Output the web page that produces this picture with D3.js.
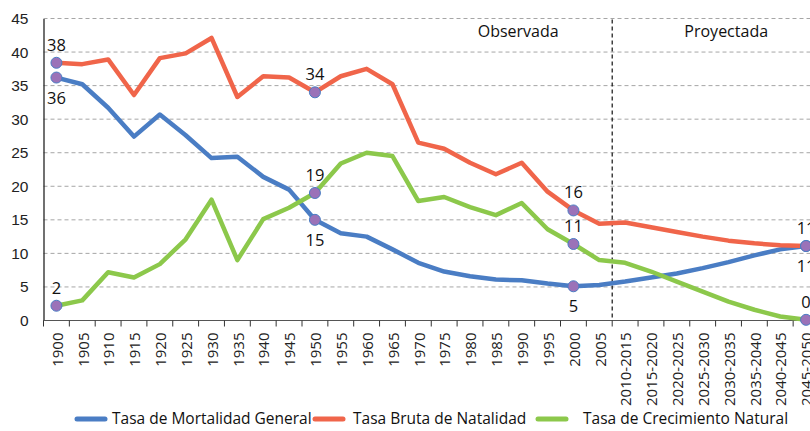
<!DOCTYPE html>
<html>
<head>
<meta charset="utf-8">
<script src="https://cdn.jsdelivr.net/npm/d3@7"></script>
<style>
  body { margin: 0; background: #fff; }
  svg { display: block; font-family: "Open Sans", "Noto Sans", sans-serif; }
</style>
</head>
<body>
<svg id="chart" width="810" height="431"></svg>
<script>
// periods on the x axis
var periods = ['1900', '1905', '1910', '1915', '1920', '1925', '1930', '1935', '1940', '1945',
  '1950', '1955', '1960', '1965', '1970', '1975', '1980', '1985', '1990', '1995', '2000', '2005',
  '2010-2015', '2015-2020', '2020-2025', '2025-2030', '2030-2035', '2035-2040', '2040-2045', '2045-2050'];

var mortalidad = [36.2, 35.2, 31.7, 27.4, 30.7, 27.6, 24.2, 24.4, 21.4, 19.5,
  15.0, 13.0, 12.5, 10.6, 8.6, 7.3, 6.6, 6.1, 6.0, 5.5, 5.1, 5.3,
  5.8, 6.4, 7.0, 7.8, 8.7, 9.7, 10.6, 11.1];

var natalidad = [38.4, 38.2, 38.9, 33.6, 39.1, 39.8, 42.1, 33.3, 36.4, 36.2,
  34.0, 36.4, 37.5, 35.2, 26.5, 25.6, 23.5, 21.8, 23.5, 19.2, 16.4, 14.4,
  14.6, 13.9, 13.2, 12.5, 11.9, 11.5, 11.2, 11.1];

var crecimiento = [2.2, 3.0, 7.2, 6.4, 8.4, 12.1, 18.0, 9.0, 15.1, 16.8,
  19.0, 23.4, 25.0, 24.5, 17.8, 18.4, 16.9, 15.7, 17.5, 13.6, 11.4, 9.0,
  8.6, 7.3, 5.8, 4.3, 2.8, 1.6, 0.6, 0.1];

var yTicks = [0, 5, 10, 15, 20, 25, 30, 35, 40, 45];

// periods whose points get a marker and a value label
var labelled = ['1900', '1950', '2000', '2045-2050'];

var series = [
  {name: 'Tasa de Mortalidad General', values: mortalidad, color: '#4a7dc4', labelPos: 'below'},
  {name: 'Tasa Bruta de Natalidad', values: natalidad, color: '#f0654a', labelPos: 'above'},
  {name: 'Tasa de Crecimiento Natural', values: crecimiento, color: '#8cc84b', labelPos: 'above'}
];

var svg = d3.select('#chart');
var margin = {left: 43.5, top: 18.5};
var bandW = 25.85;
var plotW = bandW * periods.length;
var plotH = 302;

var x = d3.scaleBand().domain(periods).range([0, plotW]);
var y = d3.scaleLinear().domain([0, 45]).range([plotH, 0]);

var g = svg.append('g').attr('transform', 'translate(' + margin.left + ',' + margin.top + ')');

// dashed gridlines
g.append('g').selectAll('line')
  .data(yTicks.filter(d => d > 0))
  .enter().append('line')
    .attr('x1', 0).attr('x2', plotW)
    .attr('y1', d => y(d)).attr('y2', d => y(d))
    .attr('stroke', '#a6a6a6')
    .attr('stroke-width', 1)
    .attr('stroke-dasharray', '4,3');

// y axis
var yAxis = g.append('g').call(d3.axisLeft(y).tickValues(yTicks).tickSize(0).tickPadding(15));
yAxis.select('.domain').attr('stroke', '#111').attr('stroke-width', 1.2);
yAxis.selectAll('text').attr('font-size', 15.5).attr('fill', '#222');

// x axis, ticks on category boundaries
var xAxisG = g.append('g').attr('transform', 'translate(0,' + plotH + ')');
xAxisG.append('line').attr('x1', 0).attr('x2', plotW).attr('stroke', '#555').attr('stroke-width', 1.2);
xAxisG.selectAll('.tick-mark')
  .data(periods.concat(['end']))
  .enter().append('line')
    .attr('class', 'tick-mark')
    .attr('x1', (d, i) => i * bandW).attr('x2', (d, i) => i * bandW)
    .attr('y1', 0).attr('y2', 6)
    .attr('stroke', '#333').attr('stroke-width', 1);
xAxisG.selectAll('text')
  .data(periods)
  .enter().append('text')
    .attr('transform', d => 'translate(' + (x(d) + x.bandwidth() / 2 + 1) + ',12) rotate(-90)')
    .attr('text-anchor', 'end')
    .attr('dy', '0.35em')
    .attr('font-size', 15)
    .attr('fill', '#222')
    .text(d => d);

// observed / projected divider
var splitX = x('2010-2015');
g.append('line')
  .attr('x1', splitX).attr('x2', splitX)
  .attr('y1', y(45) + 1).attr('y2', plotH)
  .attr('stroke', '#111').attr('stroke-width', 1.2)
  .attr('stroke-dasharray', '4,3');
g.append('text').attr('x', splitX - 94).attr('y', 18).attr('text-anchor', 'middle')
  .attr('font-size', 16).attr('fill', '#111').text('Observada');
g.append('text').attr('x', splitX + 114).attr('y', 18).attr('text-anchor', 'middle')
  .attr('font-size', 16).attr('fill', '#111').text('Proyectada');

// lines
var line = d3.line()
  .x((d, i) => x(periods[i]) + x.bandwidth() / 2)
  .y(d => y(d));

g.selectAll('.series')
  .data(series)
  .enter().append('path')
    .attr('class', 'series')
    .attr('d', d => line(d.values))
    .attr('fill', 'none')
    .attr('stroke', d => d.color)
    .attr('stroke-width', 4.5)
    .attr('stroke-linejoin', 'round');

// markers + value labels
series.forEach(function(s) {
  var pts = labelled.map(p => ({period: p, value: s.values[periods.indexOf(p)]}));
  g.append('g').selectAll('circle')
    .data(pts)
    .enter().append('circle')
      .attr('cx', d => x(d.period) + x.bandwidth() / 2)
      .attr('cy', d => y(d.value))
      .attr('r', 5.5)
      .attr('fill', '#9b72b8')
      .attr('stroke', '#4a7dc4')
      .attr('stroke-width', 1);
  g.append('g').selectAll('text')
    .data(pts)
    .enter().append('text')
      .attr('x', d => x(d.period) + x.bandwidth() / 2)
      .attr('y', d => y(d.value) + (s.labelPos === 'above' ? -12 : 26))
      .attr('text-anchor', 'middle')
      .attr('font-size', 16.5)
      .attr('fill', '#111')
      .text(d => Math.round(d.value));
});

// legend (text drawn first so the next sample overlaps it, as in the original)
var legendX = [77, 315, 538];
var legendTextX = [112, 353, 583];
var legend = svg.append('g').attr('transform', 'translate(0,419)');
legend.selectAll('text')
  .data(series)
  .enter().append('text')
    .attr('x', (d, i) => legendTextX[i]).attr('dy', '0.35em')
    .attr('font-size', 15.5)
    .attr('fill', '#111')
    .text(d => d.name);
legend.selectAll('line')
  .data(series)
  .enter().append('line')
    .attr('x1', (d, i) => legendX[i]).attr('x2', (d, i) => legendX[i] + 28)
    .attr('stroke', d => d.color)
    .attr('stroke-width', 5)
    .attr('stroke-linecap', 'round');
</script>
</body>
</html>
